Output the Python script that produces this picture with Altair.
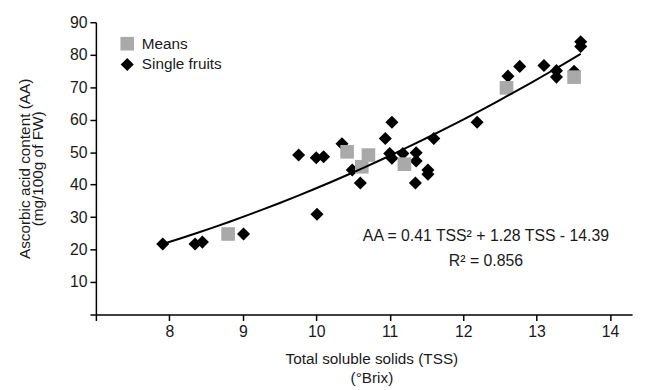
import altair as alt
import pandas as pd

# Single fruits (TSS, AA)
fruit_tss = [7.91, 8.35, 8.45, 9.01, 9.76, 10.00, 10.10, 10.01, 10.35, 10.49, 10.60,
             10.94, 11.03, 11.00, 11.03, 11.18, 11.36, 11.36, 11.35, 11.52, 11.52,
             11.60, 12.19, 12.61, 12.77, 13.10, 13.27, 13.27, 13.51, 13.60, 13.60]
fruit_aa = [21.7, 21.7, 22.3, 24.8, 49.1, 48.3, 48.6, 30.9, 52.6, 44.5, 40.5,
            54.2, 59.2, 49.6, 48.1, 49.6, 49.8, 47.3, 40.5, 44.5, 43.2,
            54.2, 59.2, 73.4, 76.4, 76.7, 75.1, 73.1, 74.9, 84.0, 82.5]

# Means (TSS, AA)
mean_tss = [8.80, 10.42, 10.62, 10.71, 11.20, 12.59, 13.51]
mean_aa = [24.8, 50.1, 45.5, 49.1, 46.3, 69.8, 73.1]

groups = ["Means", "Single fruits"]
x_ticks = [7, 8, 9, 10, 11, 12, 13, 14]
y_ticks = [0, 10, 20, 30, 40, 50, 60, 70, 80, 90]
eq_line1 = "AA = 0.41 TSS\u00b2 + 1.28 TSS - 14.39"
eq_line2 = "R\u00b2 = 0.856"

FONT = "Liberation Sans, Arial, sans-serif"

fruits = pd.DataFrame({"TSS": fruit_tss, "AA": fruit_aa, "group": groups[1]})
means = pd.DataFrame({"TSS": mean_tss, "AA": mean_aa, "group": groups[0]})
points = pd.concat([fruits, means], ignore_index=True)

xscale = alt.Scale(domain=[7, 14.3], nice=False, zero=False)
yscale = alt.Scale(domain=[0, 90], nice=False)

xaxis = alt.Axis(values=x_ticks, format="d", labelOverlap=False,
                 labelExpr="datum.value == 7 ? '' : datum.label",
                 title=["Total soluble solids (TSS)", "(\u00b0Brix)"],
                 titleX=279, titleY=45, titleBaseline="middle", titleLineHeight=19,
                 grid=False)
yaxis = alt.Axis(values=y_ticks, format="d", labelOverlap=False, tickCount=10,
                 labelExpr="datum.value == 0 ? '' : datum.label",
                 title=["Ascorbic acid content (AA)", "(mg/100g of FW)"],
                 titleX=-72, titleY=148, titleBaseline="middle", titleLineHeight=13,
                 grid=False)

X = alt.X("TSS:Q", scale=xscale, axis=xaxis)
Y = alt.Y("AA:Q", scale=yscale, axis=yaxis)

pts = alt.Chart(points).mark_point(filled=True, opacity=1, strokeWidth=0).encode(
    x=X,
    y=Y,
    color=alt.Color("group:N", scale=alt.Scale(domain=groups, range=["#a9a9a9", "#000000"]),
                    legend=alt.Legend(title=None, orient="none", legendX=24, legendY=14,
                                      symbolSize=170, labelFontSize=15.5, labelFont=FONT,
                                      labelColor="#1a1a1a", labelOffset=7, rowPadding=4,
                                      symbolStrokeWidth=0)),
    shape=alt.Shape("group:N", scale=alt.Scale(domain=groups, range=["square", "diamond"])),
    size=alt.Size("group:N", scale=alt.Scale(domain=groups, range=[190, 175]), legend=None),
)

trend = alt.Chart(fruits).transform_regression(
    "TSS", "AA", method="poly", order=2
).mark_line(color="#000000", strokeWidth=2).encode(x=X, y=Y)

eq = pd.DataFrame({"label": [eq_line1, eq_line2], "TSS": [12.31, 12.31], "AA": [24.2, 16.6]})
eq_text = alt.Chart(eq).mark_text(font=FONT, fontSize=16, color="#1a1a1a", align="center",
                                  baseline="middle").encode(x=X, y=Y, text="label:N")

chart = alt.layer(pts, trend, eq_text).properties(
    width=543, height=296,
    padding={"left": 89, "top": 12, "right": 9, "bottom": 74},
    autosize=alt.AutoSizeParams(type="none"),
).configure_view(stroke=None).configure_axis(
    domainColor="#000000", domainWidth=1.5, tickColor="#000000", tickWidth=1.5, tickSize=6,
    labelFont=FONT, labelFontSize=16, labelColor="#1a1a1a", labelPadding=3,
    titleFont=FONT, titleFontSize=15.5, titleFontWeight="normal", titleColor="#1a1a1a",
    titleAlign="center", titleAngle=0,
).configure_axisY(titleAngle=-90)

chart.save("out.html", embed_options={"renderer": "svg", "actions": False})
